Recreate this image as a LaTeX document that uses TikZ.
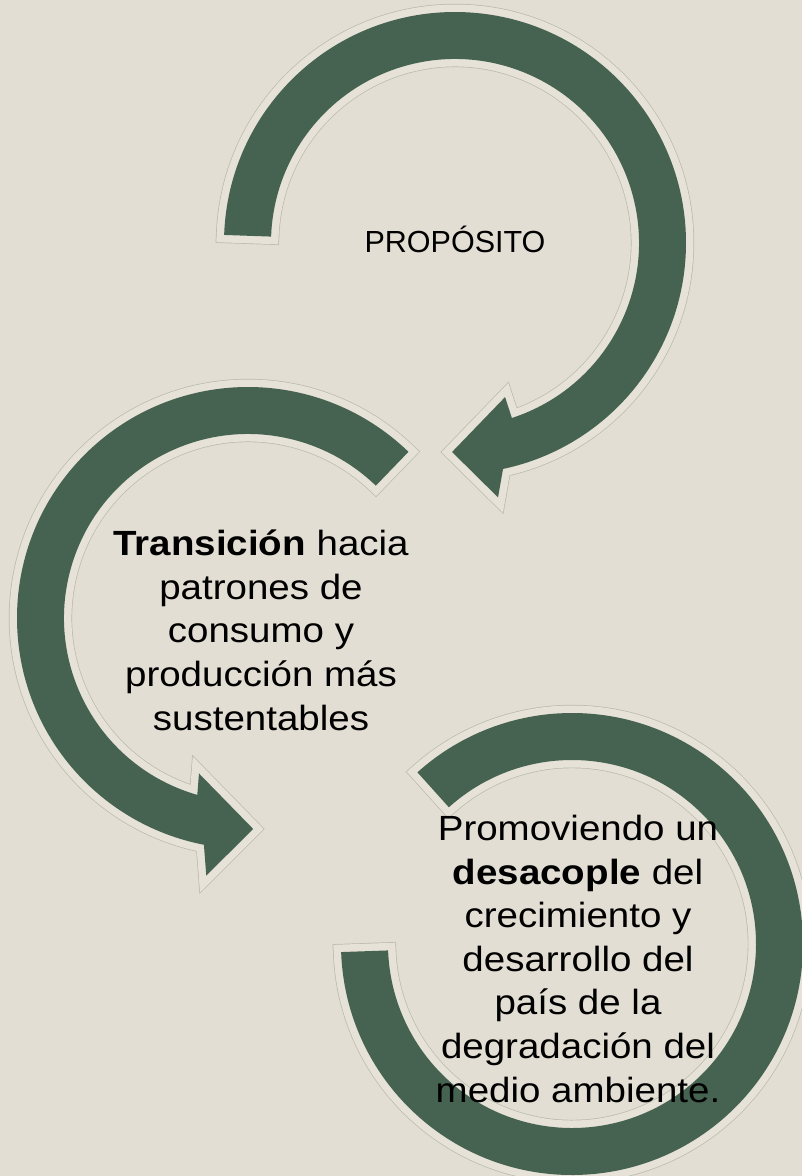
\documentclass[tikz,border=0pt]{standalone}
\usepackage{fontspec}
\setmainfont{Liberation Sans}
\newfontfamily\bodyfont[FakeStretch=1.1]{Liberation Sans}
\definecolor{bg}{RGB}{227,222,211}
\definecolor{arrowgreen}{RGB}{70,98,81}
\definecolor{rimlight}{RGB}{230,226,216}
\definecolor{rimgray}{RGB}{186,185,175}
\begin{document}
\begin{tikzpicture}[x=1pt,y=1pt,
  bigarrow/.style={fill=arrowgreen, line join=miter,
    preaction={draw=rimgray, line width=16.4pt},
    preaction={draw=rimlight, line width=15pt}},
  txt/.style={font=\bodyfont\fontsize{35}{43.6}\selectfont, align=center,
    anchor=base, inner sep=0pt, text=black},
  captxt/.style={font=\fontsize{30.5}{36}\selectfont, anchor=base,
    inner sep=0pt, text=black}]
\useasboundingbox (0,0) rectangle (802,-1176);
\fill[bg] (0,0) rectangle (802,-1176);
\begin{scope}
\clip (0,0) rectangle (802,-1176);
% arrow 1 (top, clockwise)
\path[bigarrow, shift={(455,-243)}]
  (178:231) arc[start angle=178, end angle=-78, radius=231]
  -- (-80.4:258) -- (-90.8:209) -- (-72:162) -- (-72:184)
  arc[start angle=-72, end angle=178, radius=184] -- cycle;
% arrow 2 (left, counterclockwise)
\path[bigarrow, shift={(248,-618)}]
  (46:231) arc[start angle=46, end angle=259, radius=231]
  -- (260.8:261) -- (271.4:211) -- (252.5:163) -- (254:184)
  arc[start angle=254, end angle=46, radius=184] -- cycle;
% arrow 3 (bottom right, no head)
\path[bigarrow, shift={(572,-944)}]
  (182:231) arc[start angle=182, end angle=492, radius=231]
  -- (492:184) arc[start angle=492, end angle=182, radius=184] -- cycle;
\end{scope}
\node[captxt] (purpose) at (455,-252) {PROPÓSITO};
% base anchor = baseline of the last line
\node[txt] (transition) at (261,-730)
  {\textbf{Transición} hacia\\patrones de\\consumo y\\producción más\\sustentables};
\node[txt] (decoupling) at (578,-1102)
  {Promoviendo un\\\textbf{desacople} del\\crecimiento y\\desarrollo del\\país de la\\degradación del\\medio ambiente.};
\end{tikzpicture}
\end{document}
